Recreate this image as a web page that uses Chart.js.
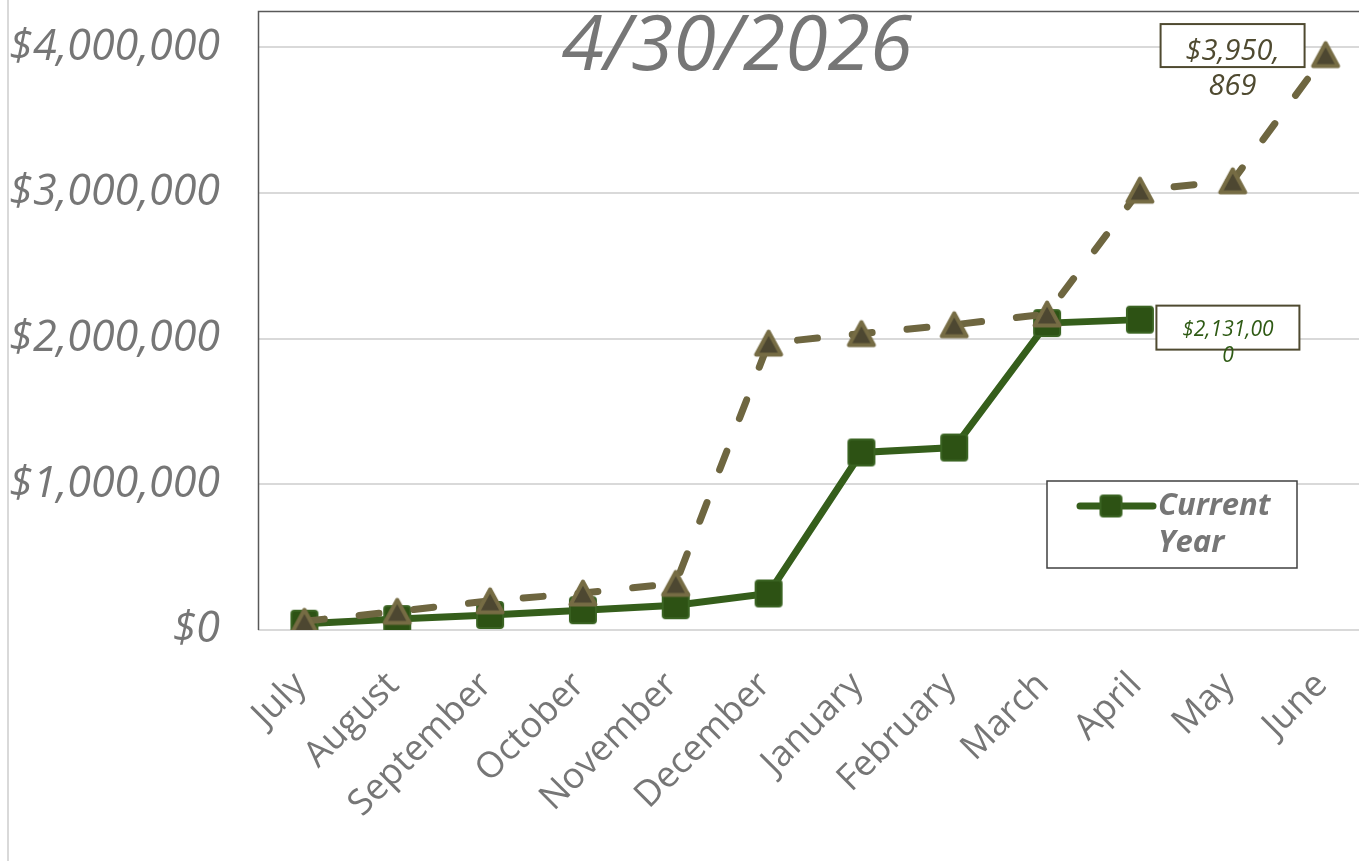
<!DOCTYPE html>
<html lang="en">
<head>
  <meta charset="UTF-8"/>
  <title>Current Year vs Prior Year</title>
  <script src="https://cdn.jsdelivr.net/npm/chart.js"></script>
  <style>
    html, body { margin: 0; padding: 0; overflow: hidden; background: #fff; }
    #wrap { position: relative; width: 1383px; height: 861px; }
    #edge { position: absolute; left: 7px; top: 0; width: 2px; height: 861px; background: #d9d9d9; }
    canvas { position: absolute; left: 0; top: 0; }
  </style>
</head>
<body>
  <div id="wrap">
    <div id="edge"></div>
    <canvas id="chart" width="1383" height="861"></canvas>
  </div>

  <script>
    const months = ['July', 'August', 'September', 'October', 'November', 'December',
                    'January', 'February', 'March', 'April', 'May', 'June'];
    const currentYear = [43000, 75000, 103000, 136000, 170000, 251000,
                         1219000, 1253000, 2107000, 2131000, null, null];
    const priorYear = [60000, 128000, 200000, 254000, 320000, 1970000,
                       2035000, 2096000, 2170000, 3020000, 3084000, 3950869];
    const yTicks = [0, 1000000, 2000000, 3000000, 4000000];
    const yMax = 4250000;
    const asOfDate = '4/30/2026';

    const GRAY = '#767676';
    const GREEN = '#355e1b';
    const OLIVE = '#6e6640';
    const FONT = "'Open Sans', sans-serif";

    const money = v => '$' + Number(v).toLocaleString('en-US');

    // marker images, drawn centred on the point
    function triangleMarker() {
      const c = document.createElement('canvas');
      c.width = 34; c.height = 32;
      const g = c.getContext('2d');
      g.beginPath();
      g.moveTo(17, 4.5);
      g.lineTo(29.5, 27.5);
      g.lineTo(4.5, 27.5);
      g.closePath();
      g.fillStyle = '#4d4731';
      g.fill();
      g.lineWidth = 4;
      g.lineJoin = 'round';
      g.strokeStyle = '#766c44';
      g.stroke();
      return c;
    }

    function squareMarker(size) {
      const c = document.createElement('canvas');
      c.width = size + 4; c.height = size + 4;
      const g = c.getContext('2d');
      g.beginPath();
      g.roundRect(2, 2, size, size, 3);
      g.fillStyle = '#2d5214';
      g.fill();
      g.lineWidth = 2;
      g.strokeStyle = '#3a6322';
      g.stroke();
      return c;
    }

    const triImg = triangleMarker();
    const sqImg = squareMarker(26);
    const sqLegendImg = squareMarker(21);

    // top and left edges of the plot frame
    const frame = {
      id: 'frame',
      beforeDatasetsDraw(chart) {
        const a = chart.chartArea, ctx = chart.ctx;
        ctx.save();
        ctx.strokeStyle = '#595959';
        ctx.lineWidth = 1.5;
        ctx.beginPath();
        ctx.moveTo(a.left + 0.5, a.bottom);
        ctx.lineTo(a.left + 0.5, a.top + 0.5);
        ctx.lineTo(a.right, a.top + 0.5);
        ctx.stroke();
        ctx.restore();
      }
    };

    // big date heading inside the plot
    const heading = {
      id: 'heading',
      afterDatasetsDraw(chart, args, opts) {
        const ctx = chart.ctx;
        ctx.save();
        ctx.font = `italic 77px ${FONT}`;
        ctx.fillStyle = GRAY;
        ctx.textAlign = 'center';
        ctx.textBaseline = 'middle';
        ctx.fillText(opts.text, opts.x, opts.y);
        ctx.restore();
      }
    };

    // boxed value labels, wrapped like the spreadsheet callouts
    const callouts = {
      id: 'callouts',
      afterDatasetsDraw(chart, args, opts) {
        const ctx = chart.ctx;
        opts.items.forEach(it => {
          const pt = chart.getDatasetMeta(it.dataset).data[it.index];
          const value = chart.data.datasets[it.dataset].data[it.index];
          const lines = money(value).match(new RegExp('.{1,' + it.chars + '}', 'g'));
          const cx = pt.x + it.dx, cy = pt.y + it.dy;
          ctx.save();
          ctx.fillStyle = '#fff';
          ctx.fillRect(cx - it.w / 2, cy - it.h / 2, it.w, it.h);
          ctx.strokeStyle = '#4f4a30';
          ctx.lineWidth = 2;
          ctx.strokeRect(cx - it.w / 2, cy - it.h / 2, it.w, it.h);
          ctx.font = `italic ${it.size}px ${FONT}`;
          ctx.fillStyle = it.color;
          ctx.textAlign = 'center';
          ctx.textBaseline = 'middle';
          lines.forEach((ln, i) => ctx.fillText(ln, cx, cy + it.textDy + i * it.gap));
          ctx.restore();
        });
      }
    };

    // legend box for the current-year series only
    const legendBox = {
      id: 'legendBox',
      afterDraw(chart, args, opts) {
        const ctx = chart.ctx;
        const ds = chart.data.datasets[opts.dataset];
        const { x, y, w, h } = opts;
        ctx.save();
        ctx.fillStyle = '#fff';
        ctx.fillRect(x, y, w, h);
        ctx.strokeStyle = '#404040';
        ctx.lineWidth = 1.5;
        ctx.strokeRect(x, y, w, h);
        ctx.strokeStyle = ds.borderColor;
        ctx.lineWidth = 7;
        ctx.lineCap = 'round';
        ctx.beginPath();
        ctx.moveTo(x + 33, y + 25);
        ctx.lineTo(x + 106, y + 25);
        ctx.stroke();
        ctx.drawImage(sqLegendImg, x + 64 - sqLegendImg.width / 2, y + 25 - sqLegendImg.height / 2);
        ctx.font = `italic bold 31px ${FONT}`;
        ctx.fillStyle = GRAY;
        ctx.textBaseline = 'middle';
        ds.label.split(' ').forEach((word, i) => ctx.fillText(word, x + 111, y + 25 + i * 37));
        ctx.restore();
      }
    };

    async function draw() {
      try {
        await Promise.all([
          document.fonts.load(`italic 43px ${FONT}`),
          document.fonts.load(`36px ${FONT}`),
          document.fonts.load(`italic bold 31px ${FONT}`)
        ]);
      } catch (e) {}

      const ctx = document.getElementById('chart').getContext('2d');
      new Chart(ctx, {
        type: 'line',
        data: {
          labels: months,
          datasets: [
            {
              label: 'Prior Year',
              data: priorYear,
              borderColor: OLIVE,
              borderWidth: 7,
              borderDash: [20, 35],
              borderCapStyle: 'round',
              pointStyle: triImg,
              tension: 0,
              order: 0
            },
            {
              label: 'Current Year',
              data: currentYear,
              borderColor: GREEN,
              borderWidth: 7,
              borderCapStyle: 'round',
              pointStyle: sqImg,
              tension: 0,
              order: 1
            }
          ]
        },
        options: {
          responsive: false,
          animation: false,
          layout: { padding: { top: 8, right: 0, bottom: 0, left: 0 } },
          plugins: {
            legend: { display: false },
            tooltip: { enabled: false },
            heading: { text: asOfDate, x: 737, y: 48 },
            callouts: {
              items: [
                { dataset: 0, index: 11, dx: -93, dy: -9, w: 144, h: 43, size: 29, color: '#4f4a30', chars: 7, gap: 35, textDy: 6 },
                { dataset: 1, index: 9, dx: 88, dy: 8, w: 143, h: 44, size: 21, color: '#2e5a14', chars: 9, gap: 26, textDy: 2 }
              ]
            },
            legendBox: { dataset: 1, x: 1047, y: 481, w: 250, h: 87 }
          },
          scales: {
            x: {
              offset: true,
              grid: { display: false },
              border: { display: false },
              ticks: {
                autoSkip: false,
                minRotation: 45,
                maxRotation: 45,
                padding: 26,
                labelOffset: -4,
                color: GRAY,
                font: { family: FONT, size: 36 }
              },
              afterFit: s => { s.height = 861 - 630; }
            },
            y: {
              min: 0,
              max: yMax,
              afterBuildTicks: s => { s.ticks = yTicks.map(v => ({ value: v })); },
              grid: { color: '#d9d9d9', lineWidth: 2, drawTicks: false },
              border: { display: false },
              ticks: {
                autoSkip: false,
                padding: 38,
                color: GRAY,
                font: { family: FONT, size: 43, style: 'italic' },
                callback: v => money(v)
              },
              afterFit: s => { s.width = 258; s.paddingTop = 0; s.paddingBottom = 0; }
            }
          }
        },
        plugins: [frame, heading, callouts, legendBox]
      });
    }

    draw();
  </script>
</body>
</html>
